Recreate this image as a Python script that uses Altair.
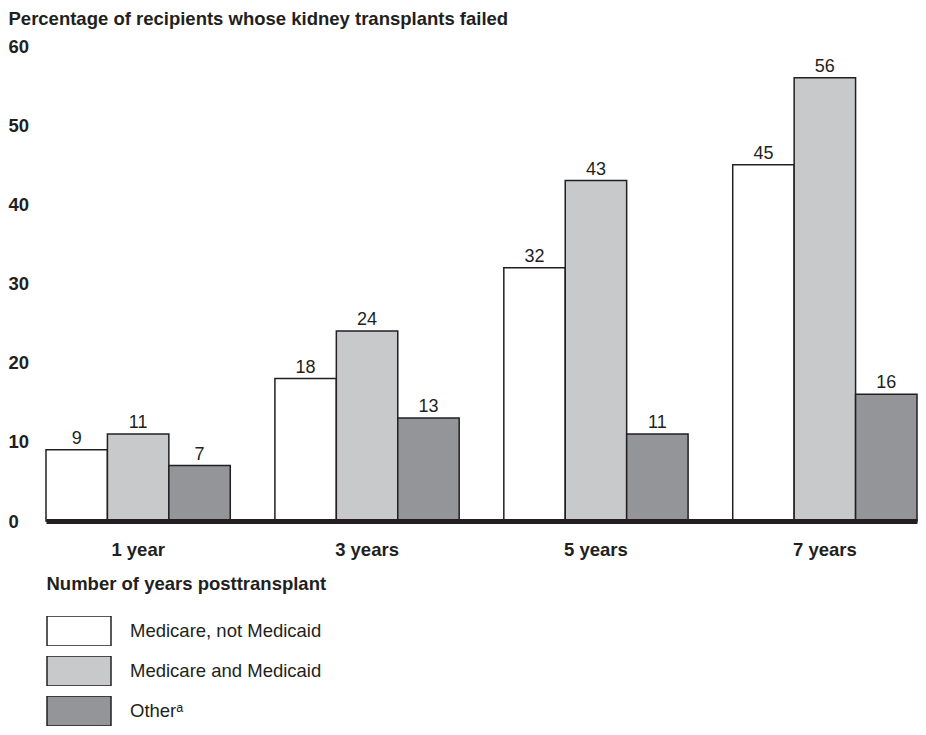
import altair as alt
import pandas as pd

periods = ["1 year", "3 years", "5 years", "7 years"]
groups = ["Medicare, not Medicaid", "Medicare and Medicaid", "Otherᵃ"]
medicare_only = [9, 18, 32, 45]
medicare_medicaid = [11, 24, 43, 56]
other = [7, 13, 11, 16]
fill_colors = ["#ffffff", "#c8c9cb", "#939598"]
y_ticks = [0, 10, 20, 30, 40, 50, 60]

rows = []
for series, name in zip([medicare_only, medicare_medicaid, other], groups):
    for p, v in zip(periods, series):
        rows.append({"period": p, "group": name, "value": v})
df = pd.DataFrame(rows)

FONT = "Liberation Sans"
INK = "#231f20"
FS = 18.5

x_enc = alt.X(
    "period:N",
    sort=periods,
    scale=alt.Scale(paddingInner=0.195, paddingOuter=0),
    axis=alt.Axis(
        title="Number of years posttransplant",
        titleX=0, titleY=62, titleAlign="left", titleAnchor="start",
        titleBaseline="middle", titleFontSize=FS, titleFontWeight="bold",
        titleFont=FONT, titleColor=INK,
        labelAngle=0, labelFontSize=FS, labelFontWeight="bold", labelFont=FONT,
        labelColor=INK, labelPadding=19, ticks=False,
        domainColor=INK, domainWidth=5, zindex=1,
    ),
)
xoff_enc = alt.XOffset("group:N", sort=groups, scale=alt.Scale(paddingInner=0, paddingOuter=0))
y_enc = alt.Y(
    "value:Q",
    scale=alt.Scale(domain=[0, 60], nice=False),
    axis=alt.Axis(
        title="Percentage of recipients whose kidney transplants failed",
        titleAngle=0, titleX=-38, titleY=-28, titleAlign="left", titleBaseline="middle",
        titleFontSize=FS, titleFontWeight="bold", titleFont=FONT, titleColor=INK,
        values=y_ticks, labelAlign="left", labelPadding=38, labelFontSize=FS,
        labelFontWeight="bold", labelFont=FONT, labelColor=INK,
        ticks=False, domain=False, grid=False,
    ),
)

bars = alt.Chart(df).mark_bar(stroke=INK, strokeWidth=1.5).encode(
    x=x_enc,
    xOffset=xoff_enc,
    y=y_enc,
    color=alt.Color(
        "group:N",
        sort=groups,
        scale=alt.Scale(domain=groups, range=fill_colors),
        legend=alt.Legend(
            orient="none", legendX=0, legendY=570, title=None,
            symbolType="M-1,-0.46875H1V0.46875H-1Z", symbolSize=4096,
            symbolStrokeColor=INK, symbolStrokeWidth=1.5, symbolOpacity=1,
            clipHeight=30, rowPadding=10, labelOffset=18, labelLimit=500,
            labelFontSize=FS, labelFont=FONT, labelColor=INK,
            direction="vertical",
        ),
    ),
)

labels = alt.Chart(df).mark_text(
    baseline="alphabetic", dy=-6, fontSize=18, font=FONT, color=INK
).encode(
    x=alt.X("period:N", sort=periods),
    xOffset=alt.XOffset("group:N", sort=groups),
    y="value:Q",
    text="value:Q",
)

chart = alt.layer(bars, labels).properties(
    width=871, height=475,
    autosize=alt.AutoSizeParams(type="none"),
    padding={"left": 38, "top": 38, "right": 1, "bottom": 206},
    background="white",
).configure_view(stroke=None)

chart.save("out.html", embed_options={"renderer": "svg", "actions": False})
